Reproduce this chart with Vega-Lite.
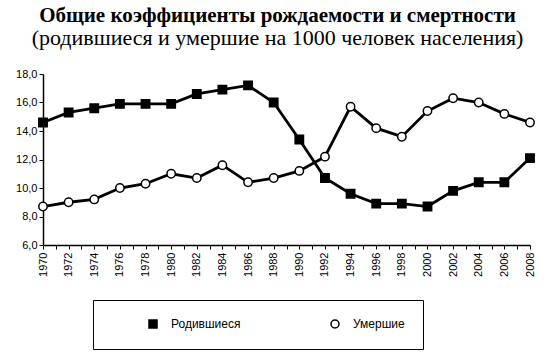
{
  "$schema": "https://vega.github.io/schema/vega-lite/v6.json",
  "width": 487,
  "height": 171,
  "autosize": "none",
  "padding": {"left": 43, "top": 74, "right": 20, "bottom": 115},
  "background": "white",
  "title": {
    "text": "Общие коэффициенты рождаемости и смертности",
    "subtitle": "(родившиеся и умершие на 1000 человек населения)",
    "font": "Liberation Serif",
    "fontSize": 21,
    "fontWeight": "bold",
    "color": "black",
    "subtitleFont": "Liberation Serif",
    "subtitleFontSize": 22,
    "subtitleColor": "black",
    "subtitlePadding": 2,
    "anchor": "middle",
    "frame": "group",
    "dx": -9,
    "offset": 19
  },
  "data": {
    "values": [
      {"year": 1970, "series": "Родившиеся", "value": 14.6},
      {"year": 1972, "series": "Родившиеся", "value": 15.3},
      {"year": 1974, "series": "Родившиеся", "value": 15.6},
      {"year": 1976, "series": "Родившиеся", "value": 15.9},
      {"year": 1978, "series": "Родившиеся", "value": 15.9},
      {"year": 1980, "series": "Родившиеся", "value": 15.9},
      {"year": 1982, "series": "Родившиеся", "value": 16.6},
      {"year": 1984, "series": "Родившиеся", "value": 16.9},
      {"year": 1986, "series": "Родившиеся", "value": 17.2},
      {"year": 1988, "series": "Родившиеся", "value": 16.0},
      {"year": 1990, "series": "Родившиеся", "value": 13.4},
      {"year": 1992, "series": "Родившиеся", "value": 10.7},
      {"year": 1994, "series": "Родившиеся", "value": 9.6},
      {"year": 1996, "series": "Родившиеся", "value": 8.9},
      {"year": 1998, "series": "Родившиеся", "value": 8.9},
      {"year": 2000, "series": "Родившиеся", "value": 8.7},
      {"year": 2002, "series": "Родившиеся", "value": 9.8},
      {"year": 2004, "series": "Родившиеся", "value": 10.4},
      {"year": 2006, "series": "Родившиеся", "value": 10.4},
      {"year": 2008, "series": "Родившиеся", "value": 12.1},
      {"year": 1970, "series": "Умершие", "value": 8.7},
      {"year": 1972, "series": "Умершие", "value": 9.0},
      {"year": 1974, "series": "Умершие", "value": 9.2},
      {"year": 1976, "series": "Умершие", "value": 10.0},
      {"year": 1978, "series": "Умершие", "value": 10.3},
      {"year": 1980, "series": "Умершие", "value": 11.0},
      {"year": 1982, "series": "Умершие", "value": 10.7},
      {"year": 1984, "series": "Умершие", "value": 11.6},
      {"year": 1986, "series": "Умершие", "value": 10.4},
      {"year": 1988, "series": "Умершие", "value": 10.7},
      {"year": 1990, "series": "Умершие", "value": 11.2},
      {"year": 1992, "series": "Умершие", "value": 12.2},
      {"year": 1994, "series": "Умершие", "value": 15.7},
      {"year": 1996, "series": "Умершие", "value": 14.2},
      {"year": 1998, "series": "Умершие", "value": 13.6},
      {"year": 2000, "series": "Умершие", "value": 15.4},
      {"year": 2002, "series": "Умершие", "value": 16.3},
      {"year": 2004, "series": "Умершие", "value": 16.0},
      {"year": 2006, "series": "Умершие", "value": 15.2},
      {"year": 2008, "series": "Умершие", "value": 14.6}
    ]
  },
  "encoding": {
    "x": {
      "field": "year",
      "type": "quantitative",
      "scale": {"domain": [1970, 2008], "nice": false, "zero": false},
      "axis": {
        "title": null,
        "grid": false,
        "values": [1970,1971,1972,1973,1974,1975,1976,1977,1978,1979,1980,1981,1982,1983,1984,1985,1986,1987,1988,1989,1990,1991,1992,1993,1994,1995,1996,1997,1998,1999,2000,2001,2002,2003,2004,2005,2006,2007,2008],
        "labelExpr": "datum.value % 2 == 0 ? format(datum.value, 'd') : ''",
        "labelAngle": -90,
        "labelAlign": "right",
        "labelBaseline": "middle",
        "labelOverlap": false,
        "labelFont": "Liberation Sans",
        "labelFontSize": 11,
        "labelColor": "black",
        "labelPadding": 3,
        "domainColor": "black",
        "domainWidth": 1.5,
        "tickColor": "black",
        "tickSize": 4,
        "tickWidth": 1
      }
    },
    "y": {
      "field": "value",
      "type": "quantitative",
      "scale": {"domain": [6, 18], "nice": false, "zero": false},
      "axis": {
        "title": null,
        "grid": false,
        "values": [6, 8, 10, 12, 14, 16, 18],
        "labelExpr": "replace(format(datum.value, '.1f'), '.', ',')",
        "labelFont": "Liberation Sans",
        "labelFontSize": 11,
        "labelColor": "black",
        "labelPadding": 2,
        "domainColor": "black",
        "domainWidth": 1.5,
        "tickColor": "black",
        "tickSize": 4,
        "tickWidth": 1
      }
    }
  },
  "layer": [
    {
      "mark": {"type": "line", "color": "black", "strokeWidth": 2.8},
      "encoding": {"detail": {"field": "series", "type": "nominal"}}
    },
    {
      "mark": {"type": "point", "filled": true, "stroke": "black", "strokeWidth": 1.5, "size": 70, "opacity": 1},
      "encoding": {
        "shape": {
          "field": "series",
          "type": "nominal",
          "scale": {"domain": ["Родившиеся", "Умершие"], "range": ["square", "circle"]},
          "legend": {
            "title": null,
            "orient": "none",
            "legendX": 50,
            "legendY": 226,
            "direction": "horizontal",
            "columns": 2,
            "columnPadding": 52,
            "gridAlign": "all",
            "padding": 18,
            "symbolOffset": 36,
            "labelOffset": 12,
            "symbolSize": 64,
            "strokeColor": "black",
            "fillColor": "white",
            "labelFont": "Liberation Sans",
            "labelFontSize": 12,
            "labelColor": "black",
            "encode": {
              "symbols": {
                "stroke": {"value": "black"},
                "strokeWidth": {"value": 2}
              }
            }
          }
        },
        "fill": {
          "field": "series",
          "type": "nominal",
          "scale": {"domain": ["Родившиеся", "Умершие"], "range": ["black", "white"]}
        }
      }
    }
  ],
  "config": {"view": {"stroke": null}}
}
